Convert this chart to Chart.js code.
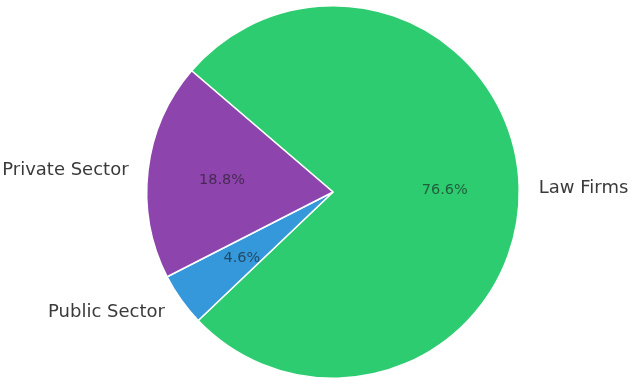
<!DOCTYPE html>
<html>
<head>
<meta charset="utf-8">
<script src="https://cdn.jsdelivr.net/npm/chart.js@4"></script>
<style>
  html, body { margin: 0; padding: 0; background: #ffffff; }
  #wrap { width: 631px; height: 381px; }
</style>
</head>
<body>
<div id="wrap"><canvas id="pieChart"></canvas></div>
<script>
// data, in drawing order (clockwise)
const categories = ["Law Firms", "Public Sector", "Private Sector"];
const shares = [76.6, 4.6, 18.8];
const sliceColors = ["#2ecc71", "#3498db", "#8e44ad"];

// outside labels + percentages, like matplotlib autopct
const pieLabels = {
  id: "pieLabels",
  afterDatasetsDraw(chart) {
    const ctx = chart.ctx;
    const meta = chart.getDatasetMeta(0);
    meta.data.forEach((arc, i) => {
      const p = arc.getProps(["x", "y", "startAngle", "endAngle", "outerRadius"], true);
      const mid = (p.startAngle + p.endAngle) / 2;
      const cos = Math.cos(mid);
      const sin = Math.sin(mid);

      ctx.save();
      ctx.textBaseline = "middle";

      ctx.font = "18px 'DejaVu Sans'";
      ctx.fillStyle = "#3a3a3a";
      ctx.textAlign = cos >= 0 ? "left" : "right";
      ctx.fillText(
        categories[i],
        p.x + cos * p.outerRadius * 1.1 + (cos >= 0 ? 1 : -1),
        p.y + sin * p.outerRadius * 1.1 + 2
      );

      ctx.font = "14.5px 'DejaVu Sans'";
      ctx.fillStyle = "rgba(25, 25, 25, 0.62)";
      ctx.textAlign = "center";
      ctx.fillText(
        shares[i].toFixed(1) + "%",
        p.x + cos * p.outerRadius * 0.6,
        p.y + sin * p.outerRadius * 0.6 + 1.5
      );
      ctx.restore();
    });
  }
};

new Chart(document.getElementById("pieChart"), {
  type: "pie",
  data: {
    labels: categories,
    datasets: [{
      data: shares,
      backgroundColor: sliceColors,
      borderColor: "#ffffff",
      borderWidth: 1.5
    }]
  },
  options: {
    responsive: true,
    maintainAspectRatio: false,
    animation: false,
    rotation: -49.4,
    layout: { padding: { top: 5, bottom: 2, left: 35, right: 0 } },
    plugins: {
      legend: { display: false },
      tooltip: { enabled: false }
    }
  },
  plugins: [pieLabels]
});
</script>
</body>
</html>
